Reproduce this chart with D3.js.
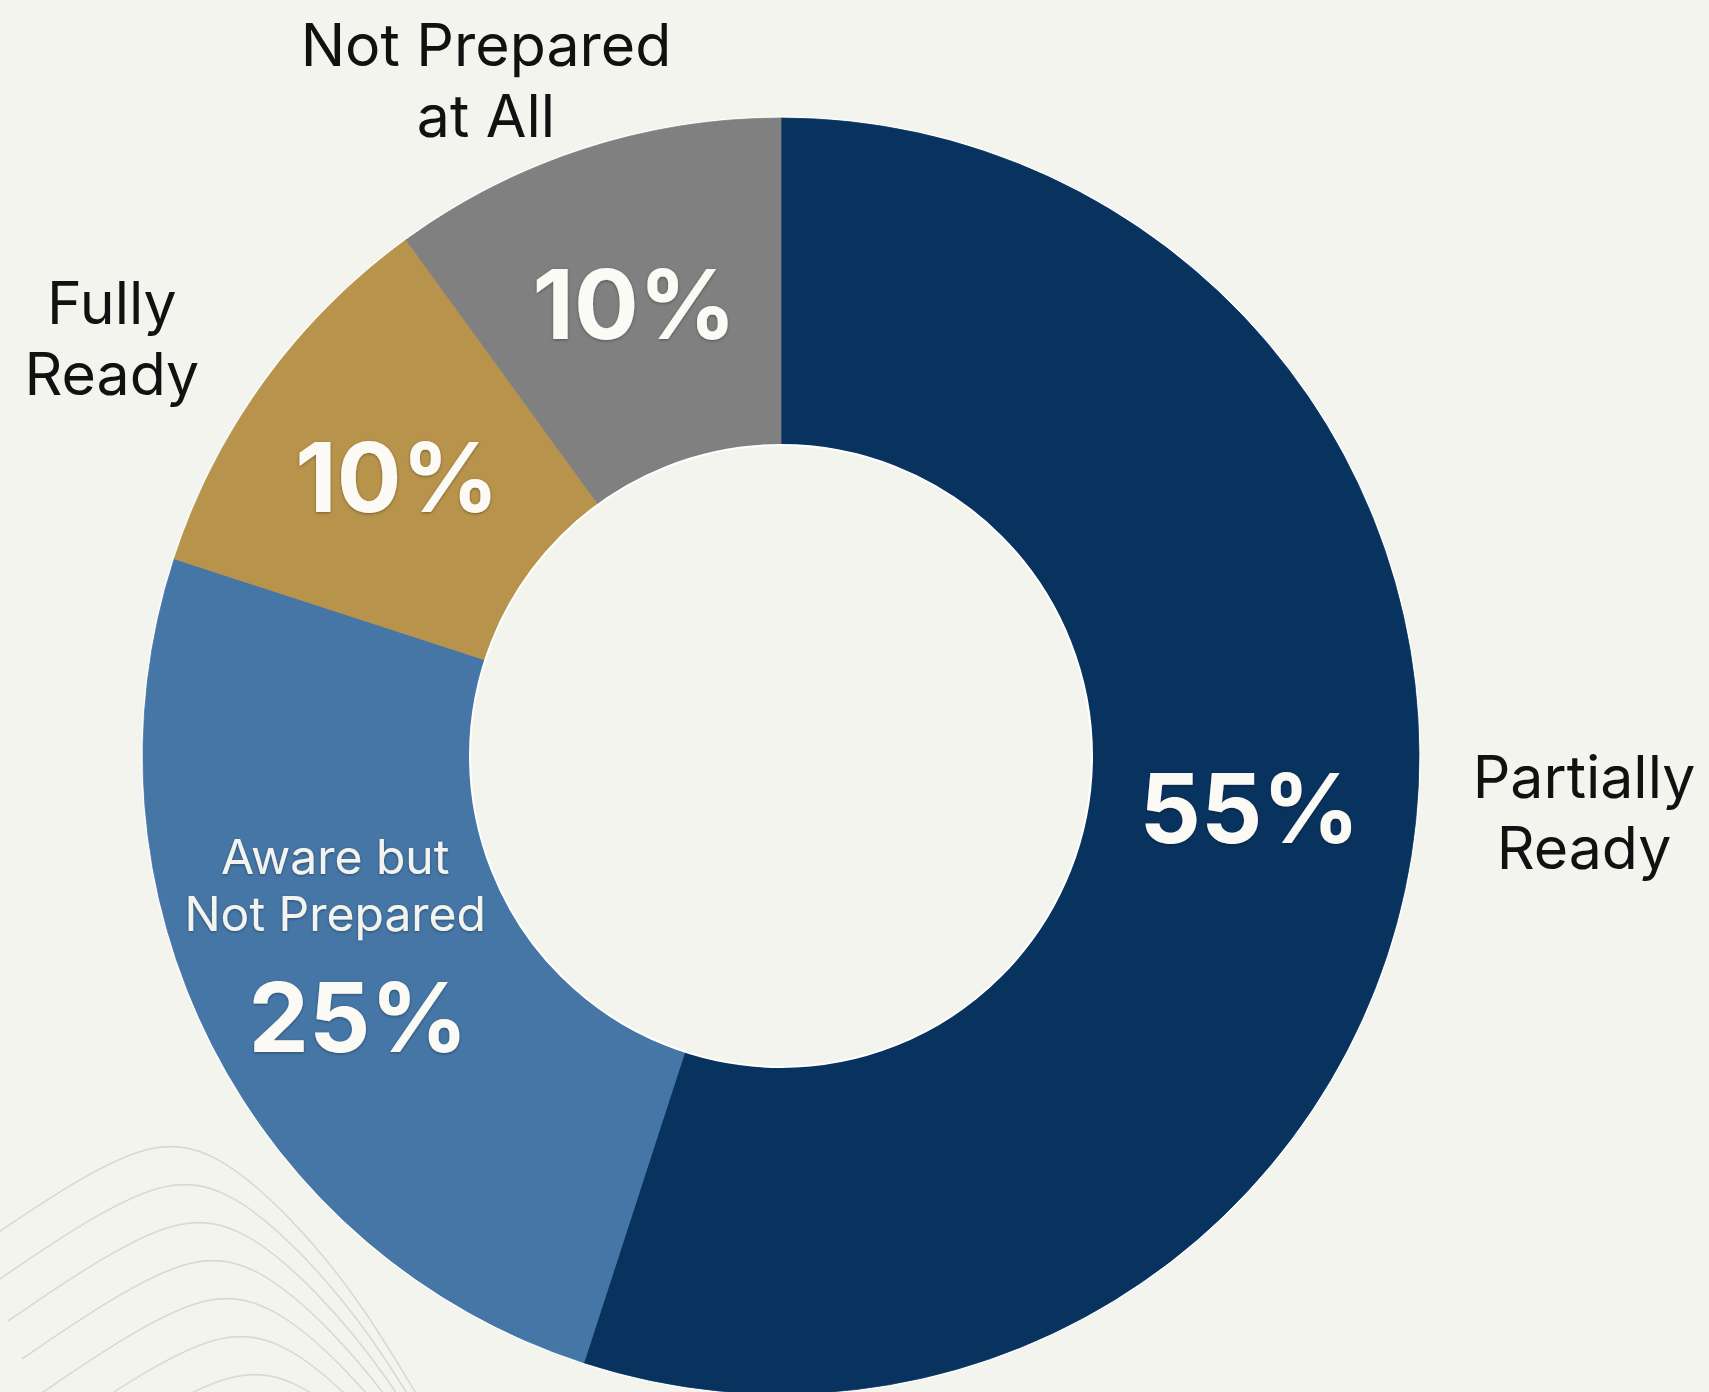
<!DOCTYPE html>
<html lang="en">
<head>
<meta charset="UTF-8">
<title>Readiness Donut</title>
<script src="https://d3js.org/d3.v7.min.js"></script>
<style>
	html, body { margin: 0; padding: 0; background: #f4f4ef; }
	svg { display: block; }
	.pct { font-family: Inter, "Noto Sans", sans-serif; font-weight: 700; fill: #fbfaf5; }
	.inner-name { font-family: Inter, "Noto Sans", sans-serif; font-weight: 400; fill: #f4f4ef; }
	.outer-name { font-family: Inter, "Noto Sans", sans-serif; font-weight: 400; fill: #111; }
	.contour { fill: none; stroke: #dcd8cf; stroke-width: 1.6px; }
</style>
</head>
<body>
<svg id="chart" width="1709" height="1392"></svg>
<script>
const width = 1709, height = 1392;
const cx = 781, cy = 756, outerR = 638, innerR = 311;

// Data
const categories = ["Partially Ready", "Aware but Not Prepared", "Fully Ready", "Not Prepared at All"];
const values = [55, 25, 10, 10];
const colors = ["#09335f", "#4576a6", "#b8934b", "#808080"];

// Label layout: names shown inside the slice vs outside
const insideName = { "Aware but Not Prepared": ["Aware but", "Not Prepared"] };
const outsideName = {
	"Partially Ready": { lines: ["Partially", "Ready"], angle: 94, r: 805 },
	"Fully Ready": { lines: ["Fully", "Ready"], angle: 302, r: 789 },
	"Not Prepared at All": { lines: ["Not Prepared", "at All"], angle: 336.4, r: 737 }
};
// small nudges of the percentage labels from the centroid
const pctNudge = { "Partially Ready": -22, "Aware but Not Prepared": 46 };

const svg = d3.select("#chart");

svg.append("rect").attr("width", width).attr("height", height).attr("fill", "#f4f4ef");

// faint topographic lines, bottom-left decoration
const contourBase = [[-20, 1245], [60, 1190], [150, 1140], [215, 1150], [290, 1215], [360, 1300], [420, 1400]];
const contourLine = d3.line().curve(d3.curveBasis);
for (let i = 0; i < 7; ++i) {
	const pts = contourBase.map(p => [p[0] + i * 14, p[1] + i * 38]);
	svg.append("path").attr("class", "contour").attr("d", contourLine(pts));
}

const defs = svg.append("defs");
const shadow = defs.append("filter").attr("id", "soft").attr("x", "-20%").attr("y", "-20%").attr("width", "140%").attr("height", "140%");
shadow.append("feDropShadow").attr("dx", 0).attr("dy", 1).attr("stdDeviation", 1.5).attr("flood-color", "#000").attr("flood-opacity", 0.35);

const g = svg.append("g").attr("transform", `translate(${cx},${cy})`);

const data = categories.map((c, i) => ({ name: c, value: values[i], color: colors[i] }));

const pie = d3.pie().value(d => d.value).sort(null);
const arcs = pie(data);

const arc = d3.arc().innerRadius(innerR).outerRadius(outerR);

// thin light rim like the reference
g.append("circle").attr("r", outerR + 1.5).attr("fill", "#ffffff");

g.selectAll(".slice")
	.data(arcs)
	.enter()
	.append("path")
	.attr("class", "slice")
	.attr("d", arc)
	.attr("fill", d => d.data.color)
	.attr("stroke", d => d.data.color)
	.attr("stroke-width", 0.8);

// inner hole rim
g.append("circle").attr("r", innerR).attr("fill", "#f4f4ef").attr("stroke", "#ffffff").attr("stroke-width", 2);

// percentage labels at the arc centroid
arcs.forEach(d => {
	const [x, y] = arc.centroid(d);
	const name = insideName[d.data.name];
	const py = y + (pctNudge[d.data.name] || 0);
	g.append("text")
		.attr("class", "pct")
		.attr("x", x)
		.attr("y", py)
		.attr("dy", "0.36em")
		.attr("text-anchor", "middle")
		.attr("font-size", 96)
		.attr("filter", "url(#soft)")
		.text(d.data.value + "%");
	if (name) {
		name.forEach((line, i) => {
			g.append("text")
				.attr("class", "inner-name")
				.attr("x", x - 23)
				.attr("y", y - 97 + i * 57)
				.attr("text-anchor", "middle")
				.attr("font-size", 48)
				.attr("filter", "url(#soft)")
				.text(line);
		});
	}
});

// outside names
arcs.forEach(d => {
	const o = outsideName[d.data.name];
	if (!o) return;
	const a = o.angle * Math.PI / 180;
	const x = o.r * Math.sin(a), y = -o.r * Math.cos(a);
	const lh = 71;
	o.lines.forEach((line, i) => {
		g.append("text")
			.attr("class", "outer-name")
			.attr("x", x)
			.attr("y", y + (i - (o.lines.length - 1) / 2) * lh)
			.attr("dy", "0.36em")
			.attr("text-anchor", "middle")
			.attr("font-size", 59)
			.text(line);
	});
});
</script>
</body>
</html>
